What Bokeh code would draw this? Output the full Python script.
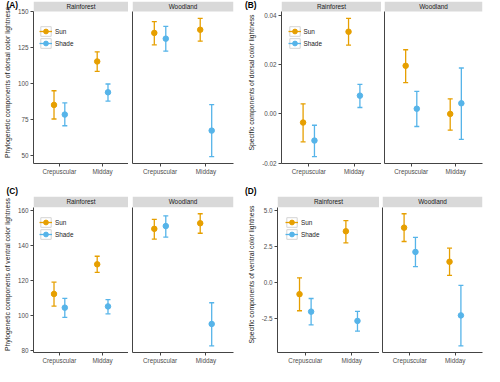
from bokeh.plotting import figure
from bokeh.layouts import row, column
from bokeh.models import (ColumnDataSource, Range1d, FixedTicker,
                          Legend, LegendItem, NumeralTickFormatter)
from bokeh.core.properties import value
from bokeh.embed import file_html
from bokeh.resources import INLINE

# ---------------- data ----------------
habitats = ["Rainforest", "Woodland"]
times = ["Crepuscular", "Midday"]
lights = ["Sun", "Shade"]
# order of 8 values: (Rain,Crep,Sun) (Rain,Crep,Shade) (Rain,Mid,Sun) (Rain,Mid,Shade)
#                    (Wood,Crep,Sun) (Wood,Crep,Shade) (Wood,Mid,Sun) (Wood,Mid,Shade)
A_mean = [84.9, 78.2, 115.2, 93.7, 135.1, 131.1, 137.3, 67.0]
A_lower = [75.1, 70.4, 108.3, 87.6, 126.8, 122.4, 129.3, 48.9]
A_upper = [94.8, 86.3, 121.9, 99.5, 142.9, 139.6, 145.2, 85.1]

B_mean = [-0.0035, -0.0108, 0.0333, 0.0074, 0.0195, 0.0021, 0.0000, 0.0043]
B_lower = [-0.0113, -0.0173, 0.0279, 0.0026, 0.0127, -0.0051, -0.0066, -0.0103]
B_upper = [0.0041, -0.0046, 0.0387, 0.0120, 0.0260, 0.0091, 0.0061, 0.0186]

C_mean = [112.2, 104.4, 129.1, 105.1, 149.3, 150.9, 152.5, 95.1]
C_lower = [105.3, 98.8, 124.5, 100.9, 143.5, 144.6, 146.8, 82.6]
C_upper = [118.9, 109.7, 133.7, 109.0, 154.7, 156.7, 157.9, 107.2]

D_mean = [-0.81, -2.02, 3.54, -2.66, 3.79, 2.11, 1.43, -2.28]
D_lower = [-1.96, -2.94, 2.73, -3.37, 2.83, 1.09, 0.49, -4.39]
D_upper = [0.32, -1.11, 4.28, -2.00, 4.75, 3.11, 2.37, -0.21]

A_ticks = [50, 75, 100, 125, 150]
B_ticks = [-0.02, 0.0, 0.02, 0.04]
C_ticks = [80, 100, 120, 140, 160]
D_ticks = [-2.5, 0.0, 2.5, 5.0]

A_label = "Phylogenetic components of dorsal color lightness"
B_label = "Specific components of dorsal color lightness"
C_label = "Phylogenetic components of ventral color lightness"
D_label = "Specific components of ventral color lightness"

# ---------------- style ----------------
FONT = "Liberation Sans"
COLORS = {"Sun": "#E69F00", "Shade": "#56B4E9"}
DODGE = 0.125
AXIS_COLOR = "#444444"
TICK_TXT = "#4d4d4d"
STRIP_FILL = "#d9d9d9"


def style_common(p):
    p.outline_line_color = None
    p.xgrid.visible = False
    p.ygrid.visible = False
    p.background_fill_color = "white"
    p.border_fill_color = "white"
    for ax in (p.xaxis[0], p.yaxis[0]):
        ax.axis_line_color = AXIS_COLOR
        ax.axis_line_width = 1
        ax.major_tick_line_color = AXIS_COLOR
        ax.minor_tick_line_color = None
        ax.major_tick_in = 0
        ax.major_tick_out = 3
        ax.major_label_text_font = FONT
        ax.major_label_text_font_size = "6.3px"
        ax.major_label_text_color = TICK_TXT
    xa = p.xaxis[0]
    xa.ticker = FixedTicker(ticks=[i + 1 for i in range(len(times))])
    xa.major_label_overrides = {i + 1: t for i, t in enumerate(times)}
    xa.major_label_standoff = 1


def make_panel(letter, ylabel, mean, lower, upper, ticks, fmt, g):
    lo, hi = min(lower), max(upper)
    pad = 0.05 * (hi - lo)
    y0, y1 = lo - pad, hi + pad
    ext = (y1 - y0) * g["sh"] / g["ph"]          # strip height in data units
    yr = Range1d(y0, y1 + ext)
    fh = g["sh"] + g["ph"]
    x0, x1 = 0.4, 0.6 + len(times)
    figs = []
    for h_i, hab in enumerate(habitats):
        left = h_i == 0
        fw = g["fw1"] if left else g["fw2"]
        bl = g["bl"] if left else g["gap"]
        br = 0 if left else g["br"]
        p = figure(width=bl + fw + br, height=g["bt"] + fh + g["bb"],
                   x_range=Range1d(x0, x1), y_range=yr,
                   output_backend="svg", toolbar_location=None,
                   min_border_left=bl, min_border_right=br,
                   min_border_top=g["bt"], min_border_bottom=g["bb"])
        style_common(p)
        ya = p.yaxis[0]
        ya.bounds = (y0, y1)
        if left:
            ya.ticker = FixedTicker(ticks=ticks)
            ya.formatter = NumeralTickFormatter(format=fmt)
            ya.axis_label = ylabel
            ya.axis_label_text_font = FONT
            ya.axis_label_text_font_size = "6.8px"
            ya.axis_label_text_font_style = "normal"
            ya.axis_label_text_color = "#1a1a1a"
            ya.axis_label_standoff = 4
            ya.major_label_standoff = 2
        else:
            ya.ticker = FixedTicker(ticks=[])
            ya.major_tick_line_color = None
            ya.major_tick_out = 0
            ya.major_label_standoff = 0

        # facet strip (inside the frame, above the panel)
        p.quad(left=[x0], right=[x1], bottom=[y1], top=[y1 + ext],
               fill_color=STRIP_FILL, line_color=None)
        p.text(x=[(x0 + x1) / 2], y=[y1 + ext / 2], text=[hab],
               text_align="center", text_baseline="middle",
               text_font=value(FONT), text_font_size=value("6.4px"),
               text_color="#1a1a1a")

        items = []
        for l_i, lt in enumerate(lights):
            xs, ms, ls, us = [], [], [], []
            for t_i in range(len(times)):
                k = h_i * 4 + t_i * 2 + l_i
                xs.append(t_i + 1 + (-DODGE if l_i == 0 else DODGE))
                ms.append(mean[k]); ls.append(lower[k]); us.append(upper[k])
            src = ColumnDataSource(dict(x=xs, m=ms, lo=ls, up=us))
            c = COLORS[lt]
            box = p.quad(left="x", right="x", top="m", bottom="m", source=src,
                         fill_color=None, line_color="#d4d4d4", line_width=1)
            seg = p.segment(x0="x", y0="lo", x1="x", y1="up", source=src,
                            line_color=c, line_width=1.3)
            p.scatter("x", "lo", source=src, marker="dash", size=5, line_color=c, line_width=1.3)
            p.scatter("x", "up", source=src, marker="dash", size=5, line_color=c, line_width=1.3)
            pt = p.scatter("x", "m", source=src, marker="circle", size=5.5,
                           fill_color=c, line_color=c)
            items.append(LegendItem(label=lt, renderers=[box, seg, pt]))

        if left:
            lx, ly = g["leg"]
            leg = Legend(items=items, location=(lx, fh - g["sh"] - ly - 24),
                         padding=0, spacing=0, margin=0,
                         glyph_width=13, glyph_height=12, label_height=12,
                         label_standoff=3, border_line_color=None,
                         background_fill_alpha=0,
                         label_text_font=FONT, label_text_font_size="6.4px",
                         label_text_color="#1a1a1a")
            p.add_layout(leg)
            # panel letter as the figure title, moved into the left margin
            p.title.text = letter
            p.title.text_font = FONT
            p.title.text_font_style = "bold"
            p.title.text_font_size = "8.3px"
            p.title.text_color = "black"
            p.title.standoff = g["tso"]
            p.title.align = "left"
            p.title.offset = g["lab"] - bl
        figs.append(p)
    return figs


top = dict(bt=1, sh=10, ph=152, bb=20, tso=-17)
bot = dict(bt=11, sh=11, ph=150, bb=11, tso=1)

gA = dict(top, bl=27, fw1=101, gap=4, fw2=101, br=9, lab=0, leg=(6, 14))
gB = dict(top, bl=39, fw1=100, gap=3, fw2=98, br=2, lab=2.5, leg=(6.5, 14))
gC = dict(bot, bl=27, fw1=101, gap=4, fw2=101, br=9, lab=0, leg=(6, 14))
gD = dict(bot, bl=35, fw1=102, gap=3, fw2=100, br=2, lab=2.5, leg=(8, 14))

fa = make_panel("(A)", A_label, A_mean, A_lower, A_upper, A_ticks, "0", gA)
fb = make_panel("(B)", B_label, B_mean, B_lower, B_upper, B_ticks, "0.00", gB)
fc = make_panel("(C)", C_label, C_mean, C_lower, C_upper, C_ticks, "0", gC)
fd = make_panel("(D)", D_label, D_mean, D_lower, D_upper, D_ticks, "0.0", gD)

layout = column(row(*fa, *fb), row(*fc, *fd))

with open("out.html", "w") as f:
    f.write(file_html(layout, INLINE))
